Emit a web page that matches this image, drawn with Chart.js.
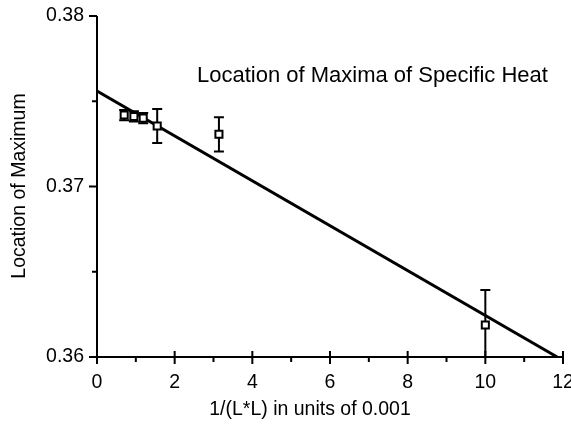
<!DOCTYPE html>
<html>
<head>
<meta charset="utf-8">
<script src="https://cdn.jsdelivr.net/npm/chart.js@4"></script>
<style>
  body { margin: 0; background: #fff; }
  canvas { display: block; }
</style>
</head>
<body>
<canvas id="myChart" width="571" height="435"></canvas>
<script>
var sizeX = [0.70, 0.95, 1.19, 1.55, 3.14, 10.0]
var maxY = [0.37419, 0.37411, 0.37401, 0.37355, 0.37306, 0.36188]
var errY = [0.0003, 0.0003, 0.0003, 0.001, 0.001, 0.00205]

// straight-line fit
var fitX = [0, 11.85]
var fitY = [0.3756, 0.36]

var xTicks = [0, 2, 4, 6, 8, 10, 12]
var xMinor = [1, 3, 5, 7, 9, 11]
var yTicks = [0.36, 0.37, 0.38]
var yMinor = [0.365, 0.375]

var chartTitle = 'Location of Maxima of Specific Heat'
var xTitle = '1/(L*L) in units of 0.001'
var yTitle = 'Location of Maximum'

const FONT = '"Liberation Sans", Arial, sans-serif'

const errorBars = {
  id: 'errorBars',
  beforeDatasetsDraw(chart) {
    const { ctx, chartArea, scales: { x, y } } = chart
    ctx.save()
    ctx.beginPath()
    ctx.rect(chartArea.left, chartArea.top - 2, chartArea.width, chartArea.height + 2)
    ctx.clip()
    ctx.strokeStyle = '#000'
    ctx.lineWidth = 2
    sizeX.forEach((v, i) => {
      const px = x.getPixelForValue(v)
      const top = y.getPixelForValue(maxY[i] + errY[i])
      const bot = y.getPixelForValue(maxY[i] - errY[i])
      ctx.beginPath()
      ctx.moveTo(px, top)
      ctx.lineTo(px, bot)
      ctx.moveTo(px - 5, top)
      ctx.lineTo(px + 5, top)
      ctx.moveTo(px - 5, bot)
      ctx.lineTo(px + 5, bot)
      ctx.stroke()
    })
    ctx.restore()
  },
}

const axesDecor = {
  id: 'axesDecor',
  afterDraw(chart) {
    const { ctx, chartArea, scales: { x, y } } = chart
    const left = chartArea.left
    const bottom = chartArea.bottom
    ctx.save()
    ctx.strokeStyle = '#000'
    ctx.fillStyle = '#000'
    ctx.lineWidth = 2

    // axis lines
    ctx.beginPath()
    ctx.moveTo(left, chartArea.top)
    ctx.lineTo(left, bottom)
    ctx.lineTo(chartArea.right, bottom)
    ctx.stroke()

    // x ticks
    ctx.beginPath()
    xTicks.forEach(v => {
      const px = x.getPixelForValue(v)
      ctx.moveTo(px, bottom - 6)
      ctx.lineTo(px, bottom + 7)
    })
    xMinor.forEach(v => {
      const px = x.getPixelForValue(v)
      ctx.moveTo(px, bottom)
      ctx.lineTo(px, bottom + 5)
    })
    // y ticks
    yTicks.forEach(v => {
      const py = y.getPixelForValue(v)
      ctx.moveTo(left - 8, py)
      ctx.lineTo(left, py)
    })
    yMinor.forEach(v => {
      const py = y.getPixelForValue(v)
      ctx.moveTo(left - 5, py)
      ctx.lineTo(left, py)
    })
    ctx.stroke()

    ctx.font = '19.5px ' + FONT
    ctx.textAlign = 'center'
    ctx.textBaseline = 'middle'
    xTicks.forEach(v => {
      ctx.fillText(String(v), x.getPixelForValue(v), bottom + 26)
    })
    ctx.textAlign = 'right'
    yTicks.forEach(v => {
      ctx.fillText(v.toFixed(2), left - 13, y.getPixelForValue(v))
    })

    ctx.textAlign = 'center'
    ctx.fillText(xTitle, 310, bottom + 53)

    ctx.save()
    ctx.translate(20, 186)
    ctx.rotate(-Math.PI / 2)
    ctx.fillText(yTitle, 0, 0)
    ctx.restore()

    ctx.font = '22px ' + FONT
    ctx.textAlign = 'left'
    ctx.fillText(chartTitle, 197, 76)
    ctx.restore()
  },
}

const ctx = document.getElementById('myChart').getContext('2d')
const myChart = new Chart(ctx, {
  type: 'scatter',
  data: {
    datasets: [
      {
        label: 'fit',
        type: 'line',
        data: fitX.map((v, i) => ({ x: v, y: fitY[i] })),
        borderColor: '#000',
        borderWidth: 3,
        pointRadius: 0,
        fill: false,
        order: 2,
      },
      {
        label: 'maxima',
        data: sizeX.map((v, i) => ({ x: v, y: maxY[i] })),
        pointStyle: 'rect',
        pointRadius: 5,
        borderColor: '#000',
        borderWidth: 2,
        backgroundColor: '#fff',
        order: 1,
      },
    ],
  },
  options: {
    responsive: false,
    animation: false,
    devicePixelRatio: 1,
    layout: { padding: { left: 97, right: 8, top: 16, bottom: 78 } },
    plugins: { legend: { display: false }, tooltip: { enabled: false } },
    scales: {
      x: { type: 'linear', min: 0, max: 12, display: false },
      y: { type: 'linear', min: 0.36, max: 0.38, display: false },
    },
  },
  plugins: [errorBars, axesDecor],
})
</script>
</body>
</html>
